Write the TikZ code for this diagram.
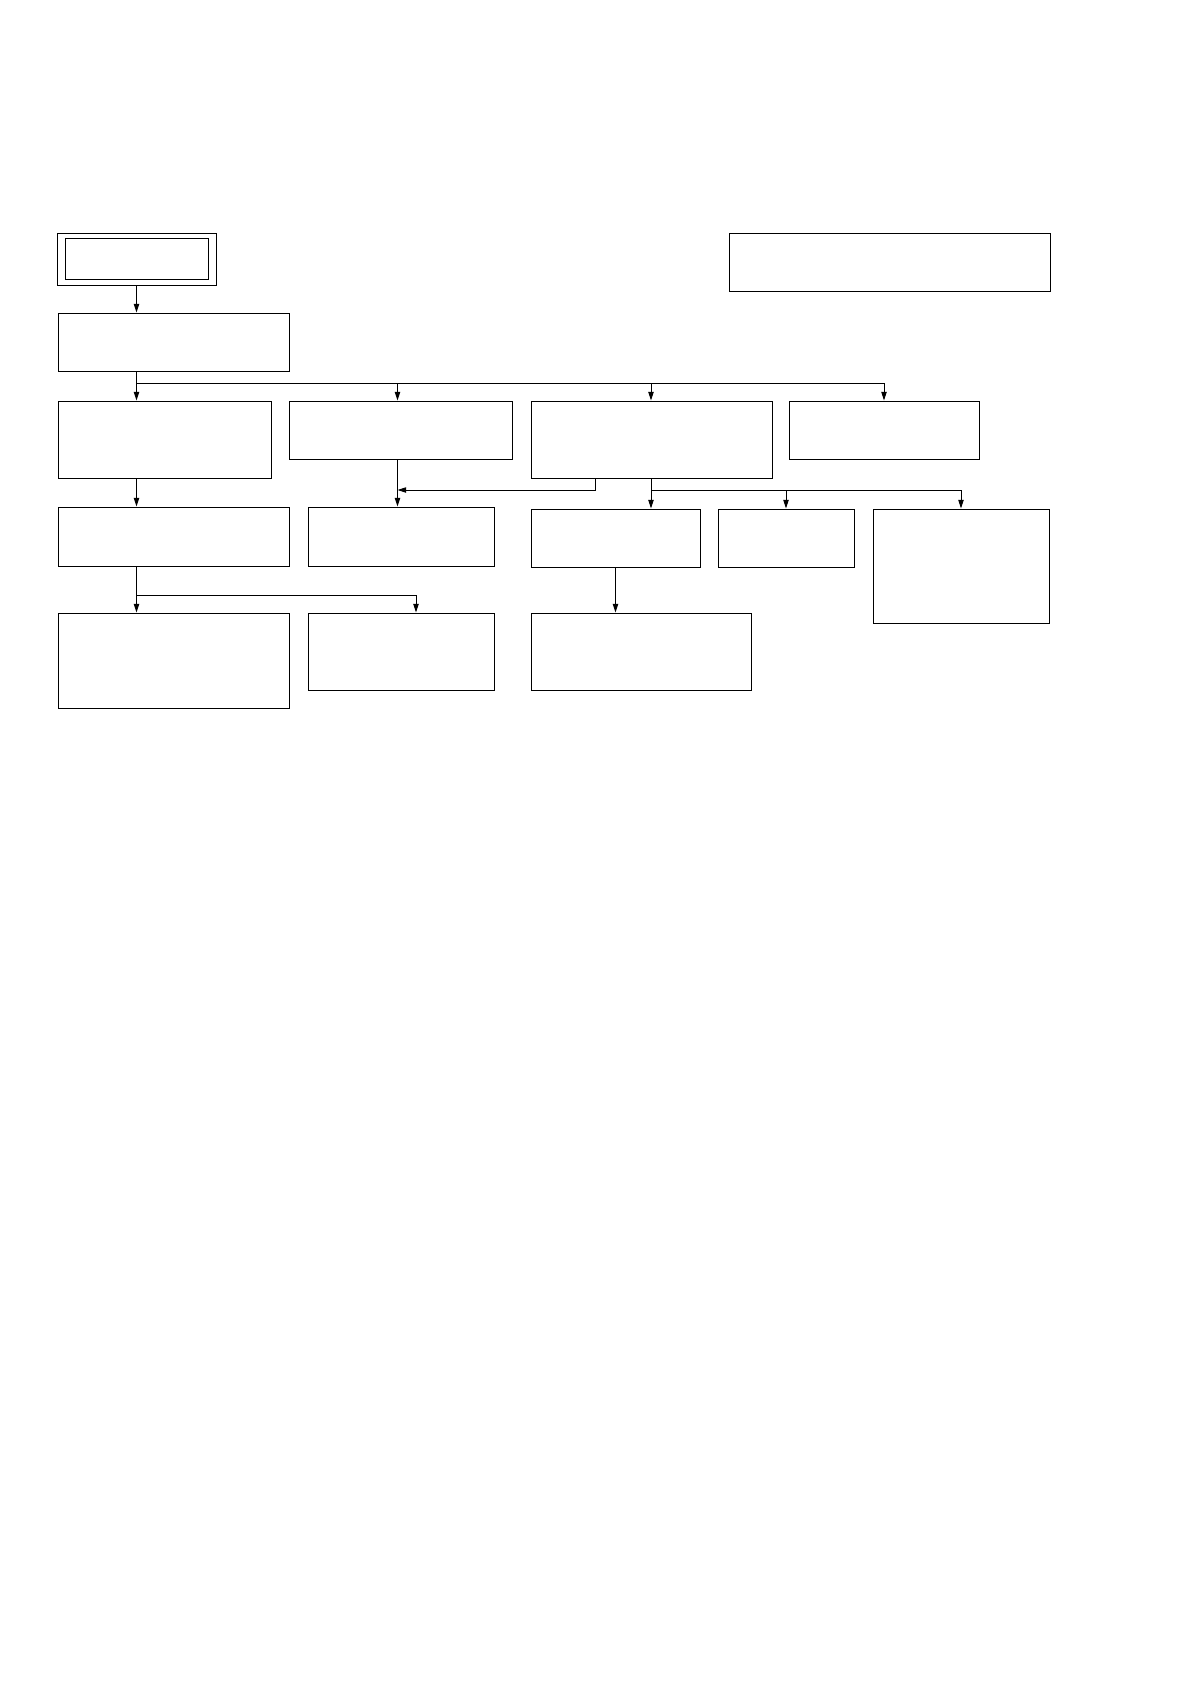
\documentclass[tikz,border=0pt]{standalone}
\usetikzlibrary{arrows.meta,fit}
\begin{document}
\begin{tikzpicture}[x=0.75pt,y=-0.75pt,
  box/.style={draw,line width=0.7pt,rectangle,inner sep=0pt,fill=white},
  link/.style={line width=0.7pt},
  arr/.style={line width=0.7pt,-{Triangle[length=6.5pt,width=4pt]}}]
\useasboundingbox[fill=white] (0,0) rectangle (1190,1684);
% boxes
\node[box,fit={(57,233) (216,285)}] (outer) {};
\node[box,fit={(65,238) (208,279)}] (inner) {};
\node[box,fit={(729,233) (1050,291)}] (tr) {};
\node[box,fit={(58,313) (289,371)}] (A) {};
\node[box,fit={(58,401) (271,478)}] (B1) {};
\node[box,fit={(289,401) (512,459)}] (B2) {};
\node[box,fit={(531,401) (772,478)}] (B3) {};
\node[box,fit={(789,401) (979,459)}] (B4) {};
\node[box,fit={(58,507) (289,566)}] (C1) {};
\node[box,fit={(308,507) (494,566)}] (C2) {};
\node[box,fit={(531,509) (700,567)}] (C3) {};
\node[box,fit={(718,509) (854,567)}] (C4) {};
\node[box,fit={(873,509) (1049,623)}] (C5) {};
\node[box,fit={(58,613) (289,708)}] (D1) {};
\node[box,fit={(308,613) (494,690)}] (D2) {};
\node[box,fit={(531,613) (751,690)}] (D3) {};
% helper coordinates
\coordinate (bus1) at (136.5,383);
\coordinate (xb2) at (397.5,0);
\coordinate (j1) at (595.5,490);
\coordinate (j2) at (651,490);
\coordinate (j3) at (136.5,595);
\coordinate (x416) at (416,0);
% connectors
\draw[arr] (outer.south) -- (outer.south |- A.north);
\draw[link] (A.south -| bus1) -- (bus1) -- (bus1 -| B4.north);
\draw[arr] (bus1) -- (bus1 |- B1.north);
\draw[arr] (bus1 -| xb2) -- (B2.north -| xb2);
\draw[arr] (bus1 -| j2) -- (B3.north -| j2);
\draw[arr] (bus1 -| B4.north) -- (B4.north);
\draw[arr] (B1.south -| bus1) -- (C1.north -| bus1);
\draw[arr] (B2.south -| xb2) -- (C2.north -| xb2);
\draw[arr] (B3.south -| j1) -- (j1) -- (j1 -| xb2);
\draw[link] (B3.south -| j2) -- (j2) -- (j2 -| C5.north);
\draw[arr] (j2) -- (C3.north -| j2);
\draw[arr] (j2 -| C4.north) -- (C4.north);
\draw[arr] (j2 -| C5.north) -- (C5.north);
\draw[link] (C1.south -| j3) -- (j3) -- (j3 -| x416);
\draw[arr] (j3) -- (D1.north -| j3);
\draw[arr] (j3 -| x416) -- (D2.north -| x416);
\draw[arr] (C3.south) -- (C3.south |- D3.north);
\end{tikzpicture}
\end{document}
